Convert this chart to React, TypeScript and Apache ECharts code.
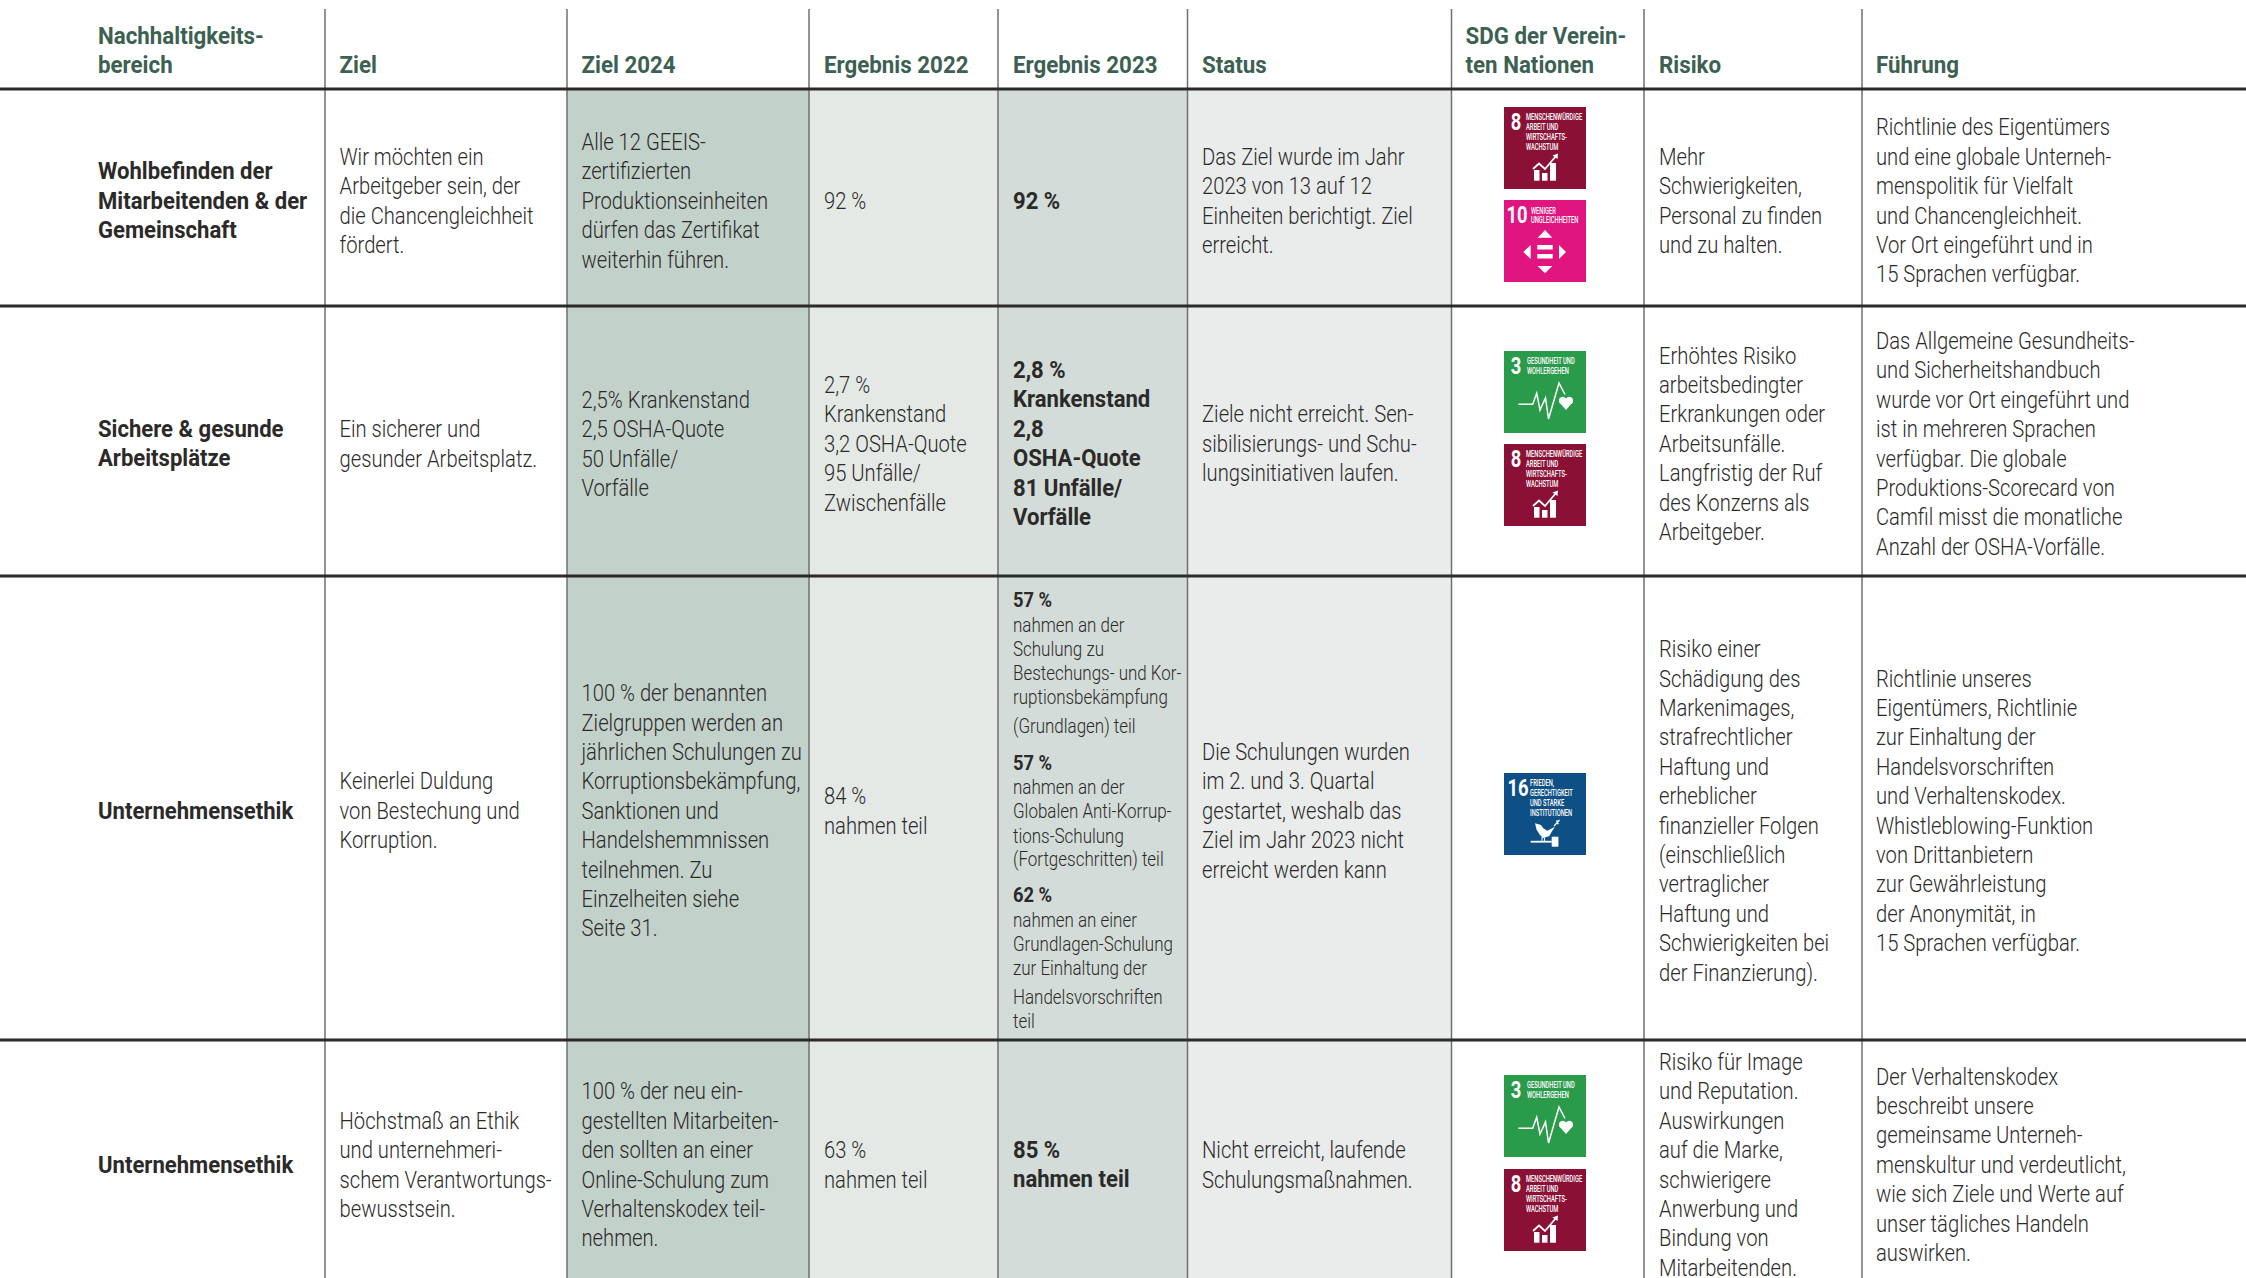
import React, { useEffect, useRef } from "react";
import * as echarts from "echarts";

const headers = [
  ["Nachhaltigkeits-", "bereich"], ["Ziel"], ["Ziel 2024"], ["Ergebnis 2022"], ["Ergebnis 2023"],
  ["Status"], ["SDG der Verein-", "ten Nationen"], ["Risiko"], ["Führung"],
];
const areas = [
  ["Wohlbefinden der", "Mitarbeitenden & der", "Gemeinschaft"],
  ["Sichere & gesunde", "Arbeitsplätze"],
  ["Unternehmensethik"],
  ["Unternehmensethik"],
];
const goals = [
  ["Wir möchten ein", "Arbeitgeber sein, der", "die Chancengleichheit", "fördert."],
  ["Ein sicherer und", "gesunder Arbeitsplatz."],
  ["Keinerlei Duldung", "von Bestechung und", "Korruption."],
  ["Höchstmaß an Ethik", "und unternehmeri-", "schem Verantwortungs-", "bewusstsein."],
];
const targets2024 = [
  ["Alle 12 GEEIS-", "zertifizierten", "Produktionseinheiten", "dürfen das Zertifikat", "weiterhin führen."],
  ["2,5% Krankenstand", "2,5 OSHA-Quote", "50 Unfälle/", "Vorfälle"],
  ["100 % der benannten", "Zielgruppen werden an", "jährlichen Schulungen zu", "Korruptionsbekämpfung,", "Sanktionen und", "Handelshemmnissen", "teilnehmen. Zu", "Einzelheiten siehe", "Seite 31."],
  ["100 % der neu ein-", "gestellten Mitarbeiten-", "den sollten an einer", "Online-Schulung zum", "Verhaltenskodex teil-", "nehmen."],
];
const results2022 = [
  ["92 %"],
  ["2,7 %", "Krankenstand", "3,2 OSHA-Quote", "95 Unfälle/", "Zwischenfälle"],
  ["84 %", "nahmen teil"],
  ["63 %", "nahmen teil"],
];
const results2023 = [
  ["92 %"],
  ["2,8 %", "Krankenstand", "2,8", "OSHA-Quote", "81 Unfälle/", "Vorfälle"],
  [],
  ["85 %", "nahmen teil"],
];
const results2023Training = [
  "57 %", "nahmen an der", "Schulung zu", "Bestechungs- und Kor-", "ruptionsbekämpfung", "(Grundlagen) teil",
  "57 %", "nahmen an der", "Globalen Anti-Korrup-", "tions-Schulung", "(Fortgeschritten) teil",
  "62 %", "nahmen an einer", "Grundlagen-Schulung", "zur Einhaltung der", "Handelsvorschriften", "teil",
];
const statuses = [
  ["Das Ziel wurde im Jahr", "2023 von 13 auf 12", "Einheiten berichtigt. Ziel", "erreicht."],
  ["Ziele nicht erreicht. Sen-", "sibilisierungs- und Schu-", "lungsinitiativen laufen."],
  ["Die Schulungen wurden", "im 2. und 3. Quartal", "gestartet, weshalb das", "Ziel im Jahr 2023 nicht", "erreicht werden kann"],
  ["Nicht erreicht, laufende", "Schulungsmaßnahmen."],
];
const sdgs = [[8, 10], [3, 8], [16], [3, 8]];
const risks = [
  ["Mehr", "Schwierigkeiten,", "Personal zu finden", "und zu halten."],
  ["Erhöhtes Risiko", "arbeitsbedingter", "Erkrankungen oder", "Arbeitsunfälle.", "Langfristig der Ruf", "des Konzerns als", "Arbeitgeber."],
  ["Risiko einer", "Schädigung des", "Markenimages,", "strafrechtlicher", "Haftung und", "erheblicher", "finanzieller Folgen", "(einschließlich", "vertraglicher", "Haftung und", "Schwierigkeiten bei", "der Finanzierung)."],
  ["Risiko für Image", "und Reputation.", "Auswirkungen", "auf die Marke,", "schwierigere", "Anwerbung und", "Bindung von", "Mitarbeitenden."],
];
const governance = [
  ["Richtlinie des Eigentümers", "und eine globale Unterneh-", "menspolitik für Vielfalt", "und Chancengleichheit.", "Vor Ort eingeführt und in", "15 Sprachen verfügbar."],
  ["Das Allgemeine Gesundheits-", "und Sicherheitshandbuch", "wurde vor Ort eingeführt und", "ist in mehreren Sprachen", "verfügbar. Die globale", "Produktions-Scorecard von", "Camfil misst die monatliche", "Anzahl der OSHA-Vorfälle."],
  ["Richtlinie unseres", "Eigentümers, Richtlinie", "zur Einhaltung der", "Handelsvorschriften", "und Verhaltenskodex.", "Whistleblowing-Funktion", "von Drittanbietern", "zur Gewährleistung", "der Anonymität, in", "15 Sprachen verfügbar."],
  ["Der Verhaltenskodex", "beschreibt unsere", "gemeinsame Unterneh-", "menskultur und verdeutlicht,", "wie sich Ziele und Werte auf", "unser tägliches Handeln", "auswirken."],
];
const sdgLabels: Record<number, string[]> = {
  3: ["GESUNDHEIT UND", "WOHLERGEHEN"],
  8: ["MENSCHENWÜRDIGE", "ARBEIT UND", "WIRTSCHAFTS-", "WACHSTUM"],
  10: ["WENIGER", "UNGLEICHHEITEN"],
  16: ["FRIEDEN,", "GERECHTIGKEIT", "UND STARKE", "INSTITUTIONEN"],
};

// Layout
const W = 2246, H = 1278;
const colX = [325, 567, 809, 998, 1187.5, 1451.5, 1644, 1862];
const textX = [98, 339.5, 581.5, 824, 1013, 1202, 1465.5, 1659, 1876];
const rowLines = [89, 306, 576, 1040];
const rowCenters = [200.8, 443.8, 810.8, 1164.8];
const LH = 29.4;
const FONT = "Roboto";
const SIZE = 23.5;
const SX = 0.86;
const SX_BOLD = 0.94;
const SX_HEAD = 0.95;
const INK = "#2b2a29";
const GREEN = "#3c6152";
const shades: [number, number, string][] = [
  [567, 809, "#c3d1cb"], [809, 998, "#e4e9e6"], [998, 1187.5, "#d3dcd8"], [1187.5, 1451.5, "#e9eceb"],
];
const trainingY = [90, 163, 235, 307, 380, 465, 577, 650, 722, 795, 865, 973, 1048, 1120, 1192, 1278, 1352].map((v) => 570.8 + v / 3);
const trainingBold = [0, 6, 11];
const sdgY = [[107, 200], [351, 444], [773], [1075, 1169]];
const SDG_X = 1504, SDG_S = 82;
const sdgColor: Record<number, string> = { 3: "#2a9b4a", 8: "#8b1036", 10: "#e0157f", 16: "#0e5086" };
const sdgNumX: Record<number, number> = { 3: 12, 8: 12, 10: 13, 16: 14 };
const sdgTextX: Record<number, number> = { 3: 23, 8: 22, 10: 27, 16: 26 };
const sdgTextY: Record<number, number[]> = { 3: [10, 19.7], 8: [10.3, 20, 30, 39.7], 10: [10.7, 20.3], 16: [9.7, 19.7, 29.7, 39.7] };

function txt(text: string, x: number, y: number, opt: any = {}) {
  return {
    type: "text", x, y, scaleX: opt.sx ?? SX, silent: true, z: 5,
    style: {
      text, fill: opt.fill ?? INK, fontFamily: FONT, fontSize: opt.size ?? SIZE,
      fontWeight: opt.weight ?? (opt.bold ? 700 : 300), textAlign: opt.align ?? "left", textVerticalAlign: "middle", verticalAlign: "middle",
    },
  };
}
function cell(lines: string[], x: number, cy: number, bold = false) {
  const top = cy - ((lines.length - 1) * LH) / 2;
  return lines.map((t, i) => txt(t, x, top + i * LH, { bold, sx: bold ? SX_BOLD : SX }));
}
const white = { fill: "#fff" };
function poly(points: number[][]) {
  return { type: "polygon", silent: true, shape: { points }, style: white };
}
function pline(points: number[][], w = 1.8) {
  return { type: "polyline", silent: true, shape: { points }, style: { stroke: "#fff", lineWidth: w, fill: "none" } };
}
function box(x: number, y: number, width: number, height: number) {
  return { type: "rect", silent: true, shape: { x, y, width, height }, style: white };
}
function glyph(n: number): any[] {
  if (n === 8) return [
    box(30, 63, 5.5, 10.7), box(38, 66, 5.5, 7.7), box(46, 56, 6, 17.7),
    pline([[29, 62], [35, 56.5], [41, 62], [52, 49]]), poly([[48.5, 48.5], [54, 46.5], [53.5, 52]]),
  ];
  if (n === 10) return [
    poly([[41, 30], [33.7, 37.7], [48.3, 37.7]]), poly([[33.7, 66], [48.3, 66], [41, 73.3]]),
    poly([[26.7, 45], [26.7, 59], [19.3, 52]]), poly([[55, 45], [55, 59], [62, 52]]),
    box(33.3, 45, 15.4, 4.4), box(33.3, 54, 15.4, 4.6),
  ];
  if (n === 3) return [
    pline([[14.3, 53.3], [28.7, 53.3], [32.7, 42.3], [36, 59], [41.5, 47], [44.5, 68], [55, 32], [61, 43.5]], 1.5),
    { type: "circle", silent: true, shape: { cx: 58.7, cy: 49.5, r: 3.8 }, style: white },
    { type: "circle", silent: true, shape: { cx: 65.3, cy: 49.5, r: 3.8 }, style: white },
    poly([[55, 51], [69, 51], [62, 59]]),
  ];
  return [
    poly([[31, 50.3], [37, 52], [39.3, 55.3], [43.3, 57.7], [51, 53.7], [47.7, 58.7], [45.3, 63], [39.3, 65.3], [36, 62], [32.7, 57]]),
    pline([[50, 53], [55.5, 47]], 1.2),
    box(52, 47.5, 2.2, 1.2), box(52.5, 50, 2.2, 1.2),
    box(26.7, 67.8, 21, 1.8), box(47.7, 63.7, 6.7, 10),
    box(40, 65, 1, 3), box(37.5, 64, 1, 4),
  ];
}
function sdgIcon(n: number, y: number) {
  const label = sdgLabels[n];
  return {
    type: "group", x: SDG_X, y, silent: true, z: 5,
    children: [
      { type: "rect", silent: true, shape: { x: 0, y: 0, width: SDG_S, height: SDG_S }, style: { fill: sdgColor[n] } },
      txt(String(n), sdgNumX[n], 15.5, { size: 23, bold: true, fill: "#fff", align: "center", sx: 0.8 }),
      ...label.map((t, i) => txt(t, sdgTextX[n], sdgTextY[n][i], { size: 8.5, fill: "#fff", weight: 500, sx: 0.68 })),
      ...glyph(n),
    ],
  };
}

function build() {
  const els: any[] = [];
  shades.forEach(([a, b, c]) =>
    els.push({ type: "rect", silent: true, shape: { x: a, y: 89, width: b - a, height: H - 89 }, style: { fill: c }, z: 1 })
  );
  colX.forEach((x) =>
    els.push({ type: "line", silent: true, z: 2, shape: { x1: x, y1: 9, x2: x, y2: H }, style: { stroke: "#6f6f6f", lineWidth: 1.5 } })
  );
  rowLines.forEach((y) =>
    els.push({ type: "line", silent: true, z: 3, shape: { x1: 0, y1: y, x2: W, y2: y }, style: { stroke: "#2b2a29", lineWidth: 3 } })
  );
  headers.forEach((h, c) => {
    h.forEach((t, i) => els.push(txt(t, textX[c], 65.3 - (h.length - 1 - i) * 28.5, { bold: true, fill: GREEN, size: 23.5, sx: SX_HEAD })));
  });
  rowCenters.forEach((cy, r) => {
    els.push(...cell(areas[r], textX[0], cy, true));
    els.push(...cell(goals[r], textX[1], cy));
    els.push(...cell(targets2024[r], textX[2], cy));
    els.push(...cell(results2022[r], textX[3], cy));
    els.push(...cell(results2023[r], textX[4], cy, true));
    els.push(...cell(statuses[r], textX[5], cy));
    els.push(...cell(risks[r], textX[7], cy));
    els.push(...cell(governance[r], textX[8], cy));
    sdgs[r].forEach((n, i) => els.push(sdgIcon(n, sdgY[r][i])));
  });
  results2023Training.forEach((t, i) =>
    els.push(txt(t, textX[4], trainingY[i], { size: 19.5, bold: trainingBold.includes(i), sx: trainingBold.includes(i) ? SX_BOLD : 0.87 }))
  );
  return els;
}

export default function App() {
  const ref = useRef<HTMLDivElement>(null);
  useEffect(() => {
    document.body.style.margin = "0";
    const chart = echarts.init(ref.current!, null, { renderer: "svg", width: W, height: H });
    chart.setOption({ animation: false, backgroundColor: "#ffffff", graphic: { elements: build() } });
    return () => chart.dispose();
  }, []);
  return <div ref={ref} style={{ width: W, height: H, overflow: "hidden" }} />;
}
